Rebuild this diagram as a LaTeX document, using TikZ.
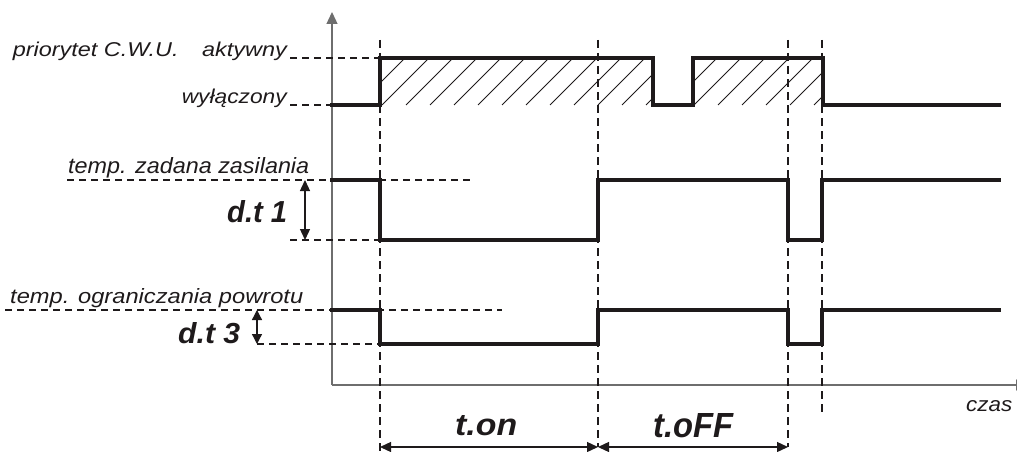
\documentclass[tikz,border=0pt]{standalone}
\usepackage{fontspec}
\setmainfont{Liberation Sans}
\usetikzlibrary{arrows.meta}
\definecolor{ink}{HTML}{1E1A1B}
\definecolor{axisgray}{HTML}{6E6E6E}
\newcommand{\lbltext}[3]{\resizebox{#1}{#2}{\itshape #3}}
\newcommand{\segtext}[3]{\resizebox{#1}{#2}{\bfseries\itshape #3}}
\begin{document}
\begin{tikzpicture}[x=1pt,y=-1pt,
  sig/.style={line width=4pt, line join=miter, line cap=rect, color=ink},
  refdash/.style={line width=1.8pt, dash pattern=on 7pt off 5pt, color=ink},
  vdash/.style={line width=2pt, dash pattern=on 8pt off 5pt, color=ink},
  lbl/.style={inner sep=0, text=ink, font=\fontsize{20}{24}\selectfont},
  seglbl/.style={inner sep=0, text=ink},
  dimarrow/.style={line width=1.3pt, color=ink, {Triangle[length=11pt,width=10pt]}-{Triangle[length=11pt,width=10pt]}},
  axisline/.style={line width=1.3pt, color=axisgray, -{Triangle[length=12pt,width=11pt]}},
  hatchline/.style={line width=0.9pt, color=ink}]
\useasboundingbox (0,0) rectangle (1017,452);

% hatching
\begin{scope}
  \clip (380,58) rectangle (653,105);
  \foreach \k in {-2,...,12} \draw[hatchline] (382+24*\k,105) -- ++(47,-47);
\end{scope}
\begin{scope}
  \clip (693,58) rectangle (823,105);
  \foreach \k in {12,...,19} \draw[hatchline] (382+24*\k,105) -- ++(47,-47);
\end{scope}

% axes
\coordinate (O) at (332,385);
\coordinate (ytop) at (332,12);
\coordinate (xend) at (1028,385);
\draw[axisline] (O) -- (ytop);
\draw[axisline] (O) -- (xend);

% vertical dashed time markers
\draw[vdash] (380,40) -- (380,452);
\draw[vdash] (598,40) -- (598,447);
\draw[vdash] (788,40) -- (788,447);
\draw[vdash] (822,40) -- (822,413);

% horizontal reference dashes
\draw[refdash] (290,58) -- (380,58);
\draw[refdash] (290,105) -- (332,105);
\draw[refdash] (67,180) -- (470,180);
\draw[refdash] (290,240) -- (380,240);
\draw[refdash] (5,310) -- (502,310);
\draw[refdash] (257,344) -- (380,344);

% signals
\draw[sig] (332,105) -- (380,105) -- (380,58) -- (653,58) -- (653,105) -- (693,105)
  -- (693,58) -- (823,58) -- (823,105) -- (999,105);
\draw[sig] (332,180) -- (380,180) -- (380,240) -- (598,240) -- (598,180) -- (788,180)
  -- (788,240) -- (822,240) -- (822,180) -- (999,180);
\draw[sig] (332,310) -- (380,310) -- (380,344) -- (598,344) -- (598,310) -- (788,310)
  -- (788,344) -- (822,344) -- (822,310) -- (999,310);

% dimension arrows
\coordinate (d1a) at (305,180);
\coordinate (d1b) at (305,240);
\coordinate (d3a) at (257,310);
\coordinate (d3b) at (257,344);
\coordinate (ton1) at (380,447);
\coordinate (ton2) at (598,447);
\coordinate (toff2) at (788,447);
\draw[dimarrow] (d1a) -- (d1b);
\draw[line width=1.3pt, color=ink, {Triangle[length=10pt,width=10pt]}-{Triangle[length=10pt,width=10pt]}] (d3a) -- (d3b);
\draw[dimarrow] (ton1) -- (ton2);
\draw[dimarrow] (ton2) -- (toff2);

% labels
\node[lbl, anchor=base east] (prio) at (287,57) {\lbltext{274pt}{14.5pt}{priorytet C.W.U.\hspace{20pt}aktywny}};
\node[lbl, anchor=base east] (wyl) at (287,103) {\lbltext{105pt}{14.5pt}{wyłączony}};
\node[lbl, anchor=base west] (zad) at (68,173) {\lbltext{241pt}{16pt}{temp. zadana zasilania}};
\node[lbl, anchor=base west] (ogr) at (10,303) {\lbltext{293pt}{15pt}{temp. ograniczania powrotu}};
\node[lbl, anchor=base west] (czas) at (966,411) {\lbltext{46pt}{11pt}{czas}};

\node[seglbl, anchor=base west] (dt1) at (227,222) {\segtext{60pt}{22pt}{d.t 1}};
\node[seglbl, anchor=base west] (dt3) at (178,343) {\segtext{62pt}{21pt}{d.t 3}};
\node[seglbl, anchor=base west] (ton) at (455,435) {\segtext{62pt}{20pt}{t.on}};
\node[seglbl, anchor=base west] (toff) at (653,437) {\segtext{80pt}{24pt}{t.oFF}};
\end{tikzpicture}
\end{document}
